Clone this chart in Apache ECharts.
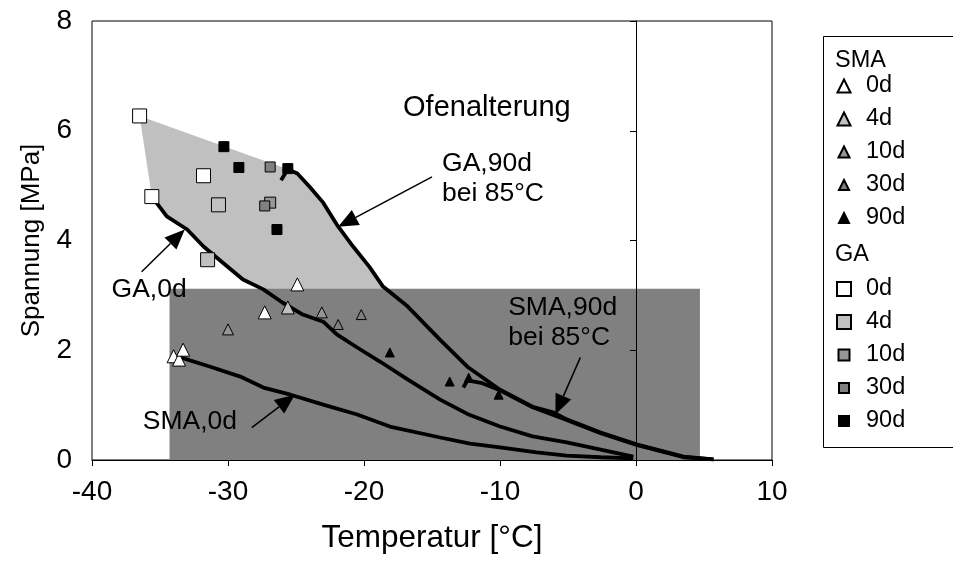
<!DOCTYPE html>
<html><head><meta charset="utf-8">
<script src="https://cdn.jsdelivr.net/npm/echarts@6/dist/echarts.min.js"></script>
<style>html,body{margin:0;padding:0;background:#fff}#c{width:953px;height:569px}</style>
</head><body><div id="c"></div>
<script>
// ---------- axis ranges ----------
const xRange = [-40, 10, 10];   // min, max, step
const yRange = [0, 8, 2];

// ---------- measured curves ----------
const ga90dX = [-26.1, -25.6, -24.9, -24.0, -23.0, -22.0, -20.8, -19.6, -18.6, -16.8, -14.4, -12.4, -10.0, -7.6, -6.1, -5.1, -2.6, 0.1, 2.3, 3.5, 5.7];
const ga90dY = [5.10, 5.30, 5.22, 4.98, 4.69, 4.29, 3.89, 3.52, 3.16, 2.80, 2.19, 1.70, 1.28, 0.97, 0.87, 0.74, 0.50, 0.28, 0.14, 0.06, 0.01];

const ga0dX = [-35.6, -34.5, -33.0, -31.8, -30.4, -28.9, -27.4, -26.0, -24.5, -23.0, -22.0, -20.5, -18.8, -16.8, -14.4, -12.4, -10.0, -7.6, -5.1, -2.6, -0.2];
const ga0dY = [4.80, 4.44, 4.20, 3.89, 3.60, 3.29, 3.11, 2.87, 2.65, 2.52, 2.29, 2.05, 1.79, 1.47, 1.10, 0.84, 0.61, 0.43, 0.32, 0.19, 0.06];

const sma0dX = [-33.5, -31.3, -29.1, -27.4, -25.4, -23.0, -20.5, -18.1, -14.4, -12.2, -10.0, -7.3, -5.1, -2.6, -0.2];
const sma0dY = [1.87, 1.70, 1.52, 1.32, 1.19, 1.01, 0.83, 0.61, 0.41, 0.30, 0.23, 0.14, 0.08, 0.05, 0.03];

const sma90dX = [-12.7, -12.4, -11.3, -10.0, -7.6, -5.1, -2.6, 0.1, 2.3, 3.5, 5.7];
const sma90dY = [1.32, 1.45, 1.40, 1.27, 0.96, 0.73, 0.49, 0.27, 0.13, 0.05, 0.01];

// ---------- shaded regions ----------
const envX = [-36.5, -25.6, -24.9, -24.0, -23.0, -22.0, -20.8, -19.6, -18.6, -18.3, -26.7, -27.4, -28.9, -30.4, -31.8, -33.0, -34.5, -35.6];
const envY = [6.27, 5.30, 5.22, 4.98, 4.69, 4.29, 3.89, 3.52, 3.16, 3.00, 3.00, 3.11, 3.29, 3.60, 3.89, 4.20, 4.44, 4.80];
const smaBoxX = [-34.3, 4.7];
const smaBoxY = [0, 3.12];

// ---------- scatter points ----------
const smaT0d  = [[-34.0, 1.89], [-33.6, 1.83], [-33.3, 2.01], [-27.3, 2.69], [-24.9, 3.20]];
const smaT4d  = [[-25.6, 2.78]];
const smaT10d = [[-30.0, 2.38], [-23.1, 2.69]];
const smaT30d = [[-21.9, 2.47], [-20.2, 2.65]];
const smaT90d = [[-18.1, 1.96], [-13.7, 1.43], [-12.3, 1.50], [-10.1, 1.19]];
const gaS0d   = [[-36.5, 6.27], [-35.6, 4.80], [-31.8, 5.18]];
const gaS4d   = [[-30.7, 4.65], [-31.5, 3.65]];
const gaS10d  = [[-26.9, 4.69]];
const gaS30d  = [[-26.9, 5.34], [-27.3, 4.63]];
const gaS90d  = [[-30.3, 5.71], [-29.2, 5.33], [-25.6, 5.31], [-26.4, 4.20]];

const ageLabels = ['0d', '4d', '10d', '30d', '90d'];
const ageColors = ['#ffffff', '#c0c0c0', '#969696', '#808080', '#000000'];
const smaSizes = [13, 13, 11, 10, 9];
const gaSizes = [14, 14, 11, 10, 10];
const smaLegendSizes = [13, 13, 11, 10, 10];
const gaLegendSizes = [14, 14, 11, 10, 10];

// ---------- annotations ----------
const annText = ['Ofenalterung', 'GA,90d\nbei 85°C', 'GA,0d', 'SMA,0d', 'SMA,90d\nbei 85°C'];
const annX = [-17.13, -14.26, -38.56, -36.27, -9.40];
const annY = [6.42, 5.13, 3.11, 0.70, 2.50];
const annSize = [29, 26.5, 26.5, 26.5, 26.5];
const arrowX1 = [-15.0, -36.35, -28.25, -4.09];
const arrowY1 = [5.16, 3.43, 0.59, 1.87];
const arrowX2 = [-21.9, -33.18, -25.08, -5.93];
const arrowY2 = [4.25, 4.20, 1.19, 0.83];

const FONT = '"Liberation Sans", Arial, sans-serif';
const zip = (xs, ys) => xs.map((x, i) => [x, ys[i]]);

const chart = echarts.init(document.getElementById('c'), null, {renderer: 'canvas'});

const series = [];
// light grey envelope (GA)
series.push({
  type: 'custom', name: 'envGA', z: 1, silent: true,
  data: [[envX[0], envY[0]]],
  renderItem: (params, api) => ({
    type: 'polygon',
    shape: {points: envX.map((x, i) => api.coord([x, envY[i]]))},
    style: {fill: '#c0c0c0'}
  })
});
// dark grey box (SMA)
series.push({
  type: 'custom', name: 'boxSMA', z: 1, silent: true,
  data: [[smaBoxX[0], smaBoxY[0]]],
  renderItem: (params, api) => {
    const a = api.coord([smaBoxX[0], smaBoxY[1]]);
    const b = api.coord([smaBoxX[1], smaBoxY[0]]);
    return {type: 'rect', shape: {x: a[0], y: a[1], width: b[0] - a[0], height: b[1] - a[1] + 1}, style: {fill: '#808080'}};
  }
});
// curves
[[ga90dX, ga90dY], [ga0dX, ga0dY], [sma0dX, sma0dY], [sma90dX, sma90dY]].forEach((c, k) => {
  series.push({
    type: 'line', name: 'curve' + k, z: 3, silent: true, showSymbol: false,
    data: zip(c[0], c[1]),
    lineStyle: {color: '#000', width: 3.8},
    itemStyle: {color: '#000'}
  });
});
// scatter
const smaData = [smaT0d, smaT4d, smaT10d, smaT30d, smaT90d];
const gaData = [gaS0d, gaS4d, gaS10d, gaS30d, gaS90d];
smaData.forEach((d, i) => series.push({
  type: 'scatter', name: 'SMA ' + ageLabels[i], z: 5, symbol: 'triangle', symbolSize: smaSizes[i],
  data: d, itemStyle: {color: ageColors[i], borderColor: '#000', borderWidth: 1, opacity: 1}
}));
gaData.forEach((d, i) => series.push({
  type: 'scatter', name: 'GA ' + ageLabels[i], z: 5, symbol: 'rect', symbolSize: gaSizes[i],
  data: d, itemStyle: {color: ageColors[i], borderColor: '#000', borderWidth: 1, opacity: 1}
}));
// arrows
series.push({
  type: 'custom', name: 'arrows', z: 6, silent: true,
  data: arrowX1.map((x, i) => [x, arrowY1[i]]),
  renderItem: (params, api) => {
    const i = params.dataIndex;
    const p1 = api.coord([arrowX1[i], arrowY1[i]]);
    const p2 = api.coord([arrowX2[i], arrowY2[i]]);
    const dx = p2[0] - p1[0], dy = p2[1] - p1[1];
    const L = Math.hypot(dx, dy), ux = dx / L, uy = dy / L;
    const hl = 20, hw = 8.5;
    const bx = p2[0] - ux * hl, by = p2[1] - uy * hl;
    return {type: 'group', children: [
      {type: 'line', shape: {x1: p1[0], y1: p1[1], x2: bx, y2: by}, style: {stroke: '#000', lineWidth: 1.5}},
      {type: 'polygon', shape: {points: [[p2[0], p2[1]], [bx - uy * hw, by + ux * hw], [bx + uy * hw, by - ux * hw]]}, style: {fill: '#000'}}
    ]};
  }
});
// annotation texts
series.push({
  type: 'custom', name: 'texts', z: 6, silent: true,
  data: annX.map((x, i) => [x, annY[i]]),
  renderItem: (params, api) => {
    const i = params.dataIndex;
    const p = api.coord([annX[i], annY[i]]);
    return {type: 'text', x: p[0], y: p[1], style: {
      text: annText[i], fill: '#000', fontSize: annSize[i], fontFamily: FONT,
      align: 'left', verticalAlign: 'middle', lineHeight: 30
    }};
  }
});

// legends: one per item so symbol sizes can differ
const legends = [];
const makeLegend = (name, size, cy) => ({
  data: [name], left: 843 - size / 2, top: cy - 12, orient: 'vertical', padding: 0,
  itemWidth: size, itemHeight: size, selectedMode: false,
  formatter: n => n.split(' ')[1],
  textStyle: {fontSize: 23.5, fontFamily: FONT, color: '#000', lineHeight: 24, padding: [0, 0, 0, 17 - size / 2]}
});
ageLabels.forEach((lab, i) => {
  legends.push(makeLegend('SMA ' + lab, smaLegendSizes[i], 86 + i * 33));
  legends.push(makeLegend('GA ' + lab, gaLegendSizes[i], 289 + i * 33));
});

const option = {
  animation: false,
  backgroundColor: '#fff',
  textStyle: {fontFamily: FONT},
  grid: {left: 92, top: 21, right: 181, bottom: 109, show: true, borderColor: '#000', borderWidth: 1, backgroundColor: 'transparent', containLabel: false, outerBoundsMode: 'none'},
  xAxis: {
    type: 'value', min: xRange[0], max: xRange[1], interval: xRange[2], z: 4,
    axisLine: {show: true, onZero: false, lineStyle: {color: '#000', width: 1}},
    axisTick: {show: true, inside: false, length: 6, lineStyle: {color: '#000'}},
    axisLabel: {fontSize: 28, color: '#000', fontFamily: FONT, margin: 18, showMinLabel: true, showMaxLabel: true, hideOverlap: false},
    splitLine: {show: false},
    name: 'Temperatur [°C]', nameLocation: 'middle', nameGap: 62, nameMoveOverlap: false,
    nameTextStyle: {fontSize: 31.5, color: '#000', fontFamily: FONT}
  },
  yAxis: [{
    type: 'value', min: yRange[0], max: yRange[1], interval: yRange[2], position: 'left', z: 4,
    axisLine: {show: false, onZero: false},
    axisTick: {show: false},
    axisLabel: {fontSize: 28, color: '#000', fontFamily: FONT, margin: 20, showMinLabel: true, showMaxLabel: true, hideOverlap: false},
    splitLine: {show: false},
    name: 'Spannung [MPa]', nameLocation: 'middle', nameGap: 47, nameRotate: 90, nameMoveOverlap: false,
    nameTextStyle: {fontSize: 26, color: '#000', fontFamily: FONT}
  }, {
    type: 'value', min: yRange[0], max: yRange[1], interval: yRange[2], position: 'left', z: 4,
    axisLine: {show: true, onZero: true, onZeroAxisIndex: 0, lineStyle: {color: '#000', width: 1}},
    axisTick: {show: true, inside: false, length: 6, lineStyle: {color: '#000'}},
    axisLabel: {show: false},
    splitLine: {show: false}
  }],
  legend: legends,
  graphic: [
    {type: 'rect', left: 821, top: 34, shape: {width: 131, height: 411}, style: {fill: 'none', stroke: '#000', lineWidth: 1}, z: 10},
    {type: 'text', left: 835, top: 49, style: {text: 'SMA', fontSize: 23.5, fontFamily: FONT, fill: '#000'}, z: 10},
    {type: 'text', left: 835, top: 243, style: {text: 'GA', fontSize: 23.5, fontFamily: FONT, fill: '#000'}, z: 10}
  ],
  series: series
};
chart.setOption(option);
</script>
</body></html>
